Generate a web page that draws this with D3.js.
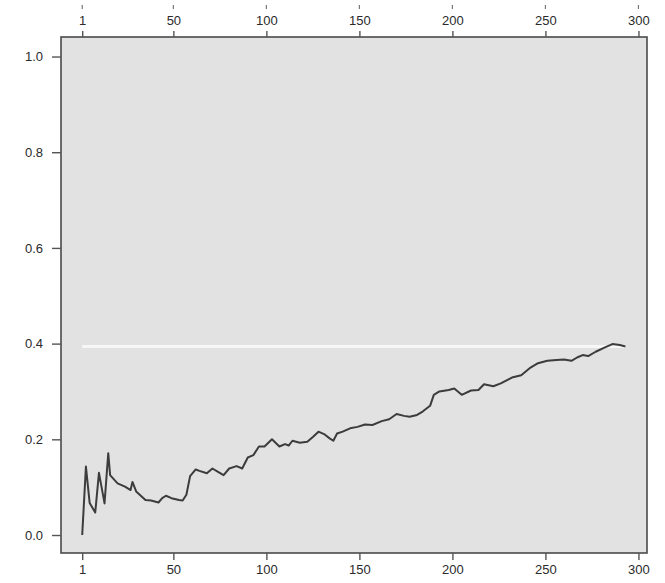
<!DOCTYPE html>
<html>
<head>
<meta charset="utf-8">
<script src="https://cdn.jsdelivr.net/npm/d3@7"></script>
<style>
  html, body { margin: 0; padding: 0; background: #fff; }
  svg { display: block; }
  text { font-family: "Liberation Sans", Arial, sans-serif; }
</style>
</head>
<body>
<svg id="chart" width="665" height="583"></svg>
<script>
// ---- data ----
const trialIndex = [1, 3, 5, 8, 10, 13, 15, 16, 20, 24, 27, 28, 30, 35, 38, 42, 44, 46, 49, 53, 55, 57, 59, 62, 64, 68, 71, 74, 77, 80, 84, 87, 90, 93, 96, 99, 103, 107, 110, 112, 114, 118, 122, 125, 128, 131, 134, 136, 138, 141, 145, 149, 153, 157, 162, 166, 170, 174, 177, 181, 184, 188, 190, 193, 198, 201, 205, 210, 214, 217, 222, 226, 232, 237, 242, 246, 251, 256, 260, 264, 267, 270, 273, 277, 282, 286, 290, 293];
const cumulativeRate = [0.000, 0.143, 0.067, 0.047, 0.130, 0.066, 0.171, 0.125, 0.108, 0.101, 0.094, 0.111, 0.091, 0.073, 0.072, 0.068, 0.077, 0.082, 0.077, 0.073, 0.072, 0.084, 0.123, 0.137, 0.134, 0.129, 0.139, 0.132, 0.125, 0.139, 0.144, 0.139, 0.162, 0.167, 0.185, 0.185, 0.200, 0.185, 0.190, 0.187, 0.197, 0.193, 0.195, 0.205, 0.216, 0.211, 0.202, 0.197, 0.212, 0.216, 0.223, 0.226, 0.231, 0.230, 0.238, 0.242, 0.253, 0.249, 0.247, 0.251, 0.258, 0.270, 0.293, 0.300, 0.303, 0.306, 0.293, 0.302, 0.303, 0.315, 0.311, 0.317, 0.329, 0.334, 0.350, 0.359, 0.364, 0.366, 0.367, 0.364, 0.371, 0.376, 0.374, 0.383, 0.392, 0.399, 0.397, 0.394];
const referenceLevel = 0.394;
const referenceRange = [1, 293];
const xTicks = [1, 50, 100, 150, 200, 250, 300];
const yTicks = [0.0, 0.2, 0.4, 0.6, 0.8, 1.0];

// ---- layout ----
const svg = d3.select("#chart");
const panel = { left: 61, right: 647, top: 37, bottom: 553 };

const x = d3.scaleLinear().domain([-10.4, 304.6]).range([panel.left, panel.right]);
const y = d3.scaleLinear().domain([-0.0376, 1.0408]).range([panel.bottom, panel.top]);

// panel background
svg.append("rect")
  .attr("x", panel.left).attr("y", panel.top)
  .attr("width", panel.right - panel.left).attr("height", panel.bottom - panel.top)
  .attr("fill", "#e2e2e2");

// reference line
svg.append("line")
  .attr("x1", x(referenceRange[0])).attr("x2", x(referenceRange[1]))
  .attr("y1", y(referenceLevel)).attr("y2", y(referenceLevel))
  .attr("stroke", "#f7f7f7").attr("stroke-width", 3);

// data line
const line = d3.line().x((d, i) => x(trialIndex[i])).y(d => y(d));
svg.append("path")
  .datum(cumulativeRate)
  .attr("d", line)
  .attr("fill", "none")
  .attr("stroke", "#3c3c3c")
  .attr("stroke-width", 2)
  .attr("stroke-linejoin", "round");

// panel border
svg.append("rect")
  .attr("x", panel.left).attr("y", panel.top)
  .attr("width", panel.right - panel.left).attr("height", panel.bottom - panel.top)
  .attr("fill", "none").attr("stroke", "#4a4a4a").attr("stroke-width", 1.6);

const fmtY = d3.format(".1f");

// bottom axis
const bottomAxis = d3.axisBottom(x).tickValues(xTicks).tickSize(7).tickPadding(5).tickFormat(d3.format("d"));
const gB = svg.append("g").attr("transform", `translate(0,${panel.bottom})`).call(bottomAxis);

// top axis
const topAxis = d3.axisTop(x).tickValues(xTicks).tickSize(6).tickPadding(6).tickFormat(d3.format("d"));
const gT = svg.append("g").attr("transform", `translate(0,${panel.top})`).call(topAxis);

// left axis
const leftAxis = d3.axisLeft(y).tickValues(yTicks).tickSize(9).tickPadding(9).tickFormat(fmtY);
const gL = svg.append("g").attr("transform", `translate(${panel.left},0)`).call(leftAxis);

[gB, gT, gL].forEach(g => {
  g.select(".domain").remove();
  g.selectAll(".tick line").attr("stroke", "#555").attr("stroke-width", 1.4);
  g.selectAll(".tick text").attr("fill", "#2a2a2a").style("font-size", "13px");
});

// small marks above the top tick labels
svg.append("g").selectAll("line").data(xTicks).join("line")
  .attr("x1", d => x(d)).attr("x2", d => x(d))
  .attr("y1", 5).attr("y2", 9)
  .attr("stroke", "#777").attr("stroke-width", 1.2);
</script>
</body>
</html>
